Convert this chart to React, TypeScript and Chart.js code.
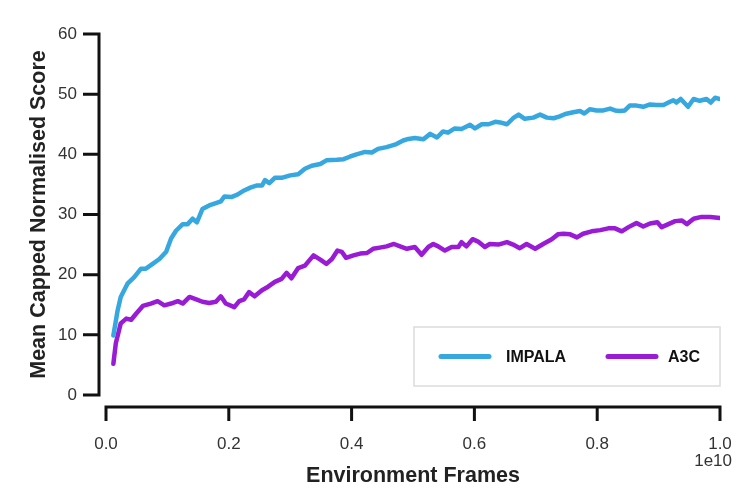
import React, { useEffect, useRef } from 'react';
import { Chart, registerables } from 'chart.js';

Chart.register(...registerables);

// ---- data ----
const impalaFrames = [
  0.012, 0.019, 0.024, 0.035, 0.046, 0.057, 0.065, 0.076, 0.087, 0.098,
  0.106, 0.114, 0.125, 0.133, 0.141, 0.148, 0.157, 0.168, 0.179, 0.187,
  0.193, 0.204, 0.214, 0.225, 0.236, 0.245, 0.254, 0.259, 0.266, 0.275,
  0.286, 0.300, 0.313, 0.324, 0.335, 0.349, 0.359, 0.376, 0.387, 0.397,
  0.408, 0.422, 0.433, 0.443, 0.457, 0.473, 0.484, 0.490, 0.503, 0.517,
  0.528, 0.539, 0.549, 0.557, 0.568, 0.579, 0.593, 0.601, 0.612, 0.623,
  0.634, 0.642, 0.653, 0.663, 0.672, 0.682, 0.696, 0.707, 0.718, 0.729,
  0.739, 0.748, 0.761, 0.772, 0.779, 0.788, 0.799, 0.810, 0.821, 0.829,
  0.837, 0.845, 0.853, 0.864, 0.875, 0.886, 0.897, 0.908, 0.916, 0.924,
  0.929, 0.936, 0.948, 0.957, 0.967, 0.978, 0.985, 0.992, 1.000,
];
const impalaScore = [
  9.9, 14.1, 16.3, 18.5, 19.6, 21.0, 21.0, 21.8, 22.6, 23.8,
  26.0, 27.3, 28.4, 28.4, 29.3, 28.7, 30.9, 31.5, 31.9, 32.2,
  33.0, 32.9, 33.3, 34.0, 34.5, 34.8, 34.8, 35.7, 35.2, 36.1,
  36.1, 36.5, 36.7, 37.6, 38.1, 38.4, 39.0, 39.1, 39.2, 39.6,
  40.0, 40.4, 40.3, 40.9, 41.2, 41.7, 42.3, 42.5, 42.7, 42.5,
  43.4, 42.8, 43.8, 43.6, 44.3, 44.2, 44.9, 44.3, 45.0, 45.0,
  45.4, 45.3, 45.0, 46.0, 46.6, 45.9, 46.1, 46.6, 46.1, 46.0,
  46.3, 46.7, 47.0, 47.2, 46.8, 47.5, 47.3, 47.3, 47.6, 47.3,
  47.2, 47.3, 48.1, 48.1, 47.9, 48.3, 48.2, 48.2, 48.6, 49.0,
  48.6, 49.2, 47.9, 49.2, 48.9, 49.2, 48.6, 49.4, 49.2,
];
const a3cFrames = [
  0.012, 0.016, 0.024, 0.033, 0.041, 0.049, 0.060, 0.073, 0.084, 0.095,
  0.106, 0.117, 0.125, 0.136, 0.147, 0.157, 0.168, 0.179, 0.187, 0.195,
  0.209, 0.217, 0.225, 0.233, 0.242, 0.254, 0.264, 0.275, 0.286, 0.294,
  0.302, 0.313, 0.324, 0.338, 0.349, 0.359, 0.368, 0.377, 0.384, 0.391,
  0.403, 0.414, 0.425, 0.435, 0.446, 0.457, 0.469, 0.479, 0.490, 0.503,
  0.514, 0.525, 0.533, 0.541, 0.552, 0.563, 0.574, 0.579, 0.587, 0.597,
  0.606, 0.617, 0.625, 0.639, 0.653, 0.663, 0.674, 0.685, 0.699, 0.712,
  0.726, 0.736, 0.745, 0.756, 0.767, 0.777, 0.791, 0.805, 0.818, 0.829,
  0.840, 0.851, 0.864, 0.875, 0.886, 0.898, 0.905, 0.916, 0.927, 0.938,
  0.946, 0.957, 0.970, 0.984, 1.000,
];
const a3cScore = [
  5.2, 8.6, 11.9, 12.7, 12.5, 13.5, 14.8, 15.2, 15.6, 14.9,
  15.2, 15.6, 15.2, 16.3, 15.9, 15.5, 15.3, 15.5, 16.4, 15.2,
  14.6, 15.6, 15.9, 17.1, 16.4, 17.4, 18.0, 18.8, 19.3, 20.3,
  19.4, 21.1, 21.5, 23.2, 22.5, 21.8, 22.6, 24.0, 23.8, 22.8,
  23.2, 23.5, 23.6, 24.3, 24.5, 24.7, 25.1, 24.7, 24.3, 24.6,
  23.3, 24.6, 25.1, 24.7, 24.0, 24.6, 24.6, 25.4, 24.7, 25.9,
  25.5, 24.6, 25.1, 25.0, 25.4, 25.0, 24.4, 25.1, 24.3, 25.1,
  25.9, 26.7, 26.8, 26.7, 26.2, 26.8, 27.2, 27.4, 27.7, 27.7,
  27.2, 27.9, 28.6, 28.0, 28.5, 28.7, 27.9, 28.4, 28.9, 29.0,
  28.4, 29.3, 29.6, 29.6, 29.4,
];
const xTicks = [0, 0.2, 0.4, 0.6, 0.8, 1.0];
const yTicks = [0, 10, 20, 30, 40, 50, 60];
const seriesLabels = ['IMPALA', 'A3C'];
const seriesColors = ['#37a8df', '#9a1bd5'];
const xTitle = 'Environment Frames';
const yTitle = 'Mean Capped Normalised Score';
const xExponent = '1e10';

const FONT = "'Liberation Sans', Arial, Helvetica, sans-serif";
const AXIS_COLOR = '#111111';

const spinePlugin = {
  id: 'spines',
  afterDraw(chart: any) {
    const { ctx, chartArea, scales } = chart;
    const xs = scales.x;
    const ys = scales.y;
    ctx.save();
    ctx.strokeStyle = AXIS_COLOR;
    ctx.lineWidth = 3;
    ctx.lineCap = 'butt';
    // y spine (offset to the left)
    const sx = chartArea.left - 7;
    const yTop = ys.getPixelForValue(yTicks[yTicks.length - 1]);
    const yBot = ys.getPixelForValue(yTicks[0]);
    ctx.beginPath();
    ctx.moveTo(sx, yTop - 1.5);
    ctx.lineTo(sx, yBot + 1.5);
    for (const v of yTicks) {
      const p = ys.getPixelForValue(v);
      ctx.moveTo(sx + 1.5, p);
      ctx.lineTo(sx - 16, p);
    }
    // x spine (offset downwards)
    const sy = chartArea.bottom + 12;
    const xl = xs.getPixelForValue(xTicks[0]);
    const xr = xs.getPixelForValue(xTicks[xTicks.length - 1]);
    ctx.moveTo(xl - 1.5, sy);
    ctx.lineTo(xr + 1.5, sy);
    for (const v of xTicks) {
      const p = xs.getPixelForValue(v);
      ctx.moveTo(p, sy - 1.5);
      ctx.lineTo(p, sy + 14);
    }
    ctx.stroke();

    // exponent label
    ctx.fillStyle = '#333333';
    ctx.font = `17px ${FONT}`;
    ctx.textAlign = 'right';
    ctx.textBaseline = 'middle';
    ctx.fillText(xExponent, xr + 12, chartArea.bottom + 66);

    // legend box
    const bw = 306;
    const bh = 59;
    const bx = chartArea.right - bw;
    const by = chartArea.bottom - 9 - bh;
    ctx.fillStyle = '#ffffff';
    ctx.fillRect(bx, by, bw, bh);
    ctx.strokeStyle = '#dcdcdc';
    ctx.lineWidth = 1.5;
    ctx.strokeRect(bx, by, bw, bh);
    const cy = by + bh / 2;
    const itemX = [bx + 27, bx + 194];
    ctx.font = `bold 16px ${FONT}`;
    ctx.textAlign = 'left';
    ctx.textBaseline = 'middle';
    chart.data.datasets.forEach((ds: any, i: number) => {
      ctx.strokeStyle = ds.borderColor;
      ctx.lineWidth = 5;
      ctx.lineCap = 'round';
      ctx.beginPath();
      ctx.moveTo(itemX[i], cy);
      ctx.lineTo(itemX[i] + 48, cy);
      ctx.stroke();
      ctx.fillStyle = '#111111';
      ctx.fillText(ds.label, itemX[i] + (i === 0 ? 65 : 60), cy + 1);
    });
    ctx.restore();
  },
};

export default function App() {
  const ref = useRef<HTMLCanvasElement | null>(null);

  useEffect(() => {
    if (!ref.current) return;
    const mk = (xs: number[], ys: number[]) => xs.map((x, i) => ({ x, y: ys[i] }));
    const chart = new Chart(ref.current, {
      type: 'line',
      data: {
        datasets: [
          {
            label: seriesLabels[0],
            data: mk(impalaFrames, impalaScore),
            borderColor: seriesColors[0],
            backgroundColor: seriesColors[0],
            borderWidth: 4.5,
            pointRadius: 0,
            tension: 0,
            borderJoinStyle: 'round',
            borderCapStyle: 'round',
          },
          {
            label: seriesLabels[1],
            data: mk(a3cFrames, a3cScore),
            borderColor: seriesColors[1],
            backgroundColor: seriesColors[1],
            borderWidth: 4.5,
            pointRadius: 0,
            tension: 0,
            borderJoinStyle: 'round',
            borderCapStyle: 'round',
          },
        ],
      },
      options: {
        responsive: false,
        animation: false,
        devicePixelRatio: 1,
        layout: { padding: { top: 34, right: 20, left: 0, bottom: 0 } },
        plugins: { legend: { display: false }, tooltip: { enabled: false } },
        scales: {
          x: {
            type: 'linear',
            min: xTicks[0],
            max: xTicks[xTicks.length - 1],
            grid: { display: false },
            border: { display: false },
            afterBuildTicks: (s: any) => {
              s.ticks = xTicks.map((v) => ({ value: v }));
            },
            afterFit: (s: any) => {
              s.height = 95;
              s.paddingLeft = 0;
              s.paddingRight = 0;
            },
            ticks: {
              padding: 31,
              color: '#333333',
              font: { family: FONT, size: 17 },
              maxRotation: 0,
              callback: (v: any) => Number(v).toFixed(1),
            },
            title: {
              display: true,
              text: xTitle,
              color: '#222222',
              font: { family: FONT, size: 21.5, weight: 'bold' },
              padding: { top: 0, bottom: 1 },
            },
          },
          y: {
            type: 'linear',
            min: yTicks[0],
            max: yTicks[yTicks.length - 1],
            grid: { display: false },
            border: { display: false },
            afterBuildTicks: (s: any) => {
              s.ticks = yTicks.map((v) => ({ value: v }));
            },
            afterFit: (s: any) => {
              s.width = 106;
              s.paddingTop = 0;
              s.paddingBottom = 0;
            },
            ticks: {
              padding: 21,
              color: '#333333',
              font: { family: FONT, size: 17 },
              callback: (v: any) => String(v),
            },
            title: {
              display: true,
              text: yTitle,
              color: '#222222',
              font: { family: FONT, size: 21.5, weight: 'bold' },
              padding: { top: 26, bottom: 0 },
            },
          },
        },
      } as any,
      plugins: [spinePlugin],
    });
    return () => chart.destroy();
  }, []);

  return (
    <div style={{ position: 'absolute', left: 0, top: 0, width: 740, height: 490, background: '#ffffff' }}>
      <canvas ref={ref} width={740} height={490} style={{ display: 'block' }} />
    </div>
  );
}
